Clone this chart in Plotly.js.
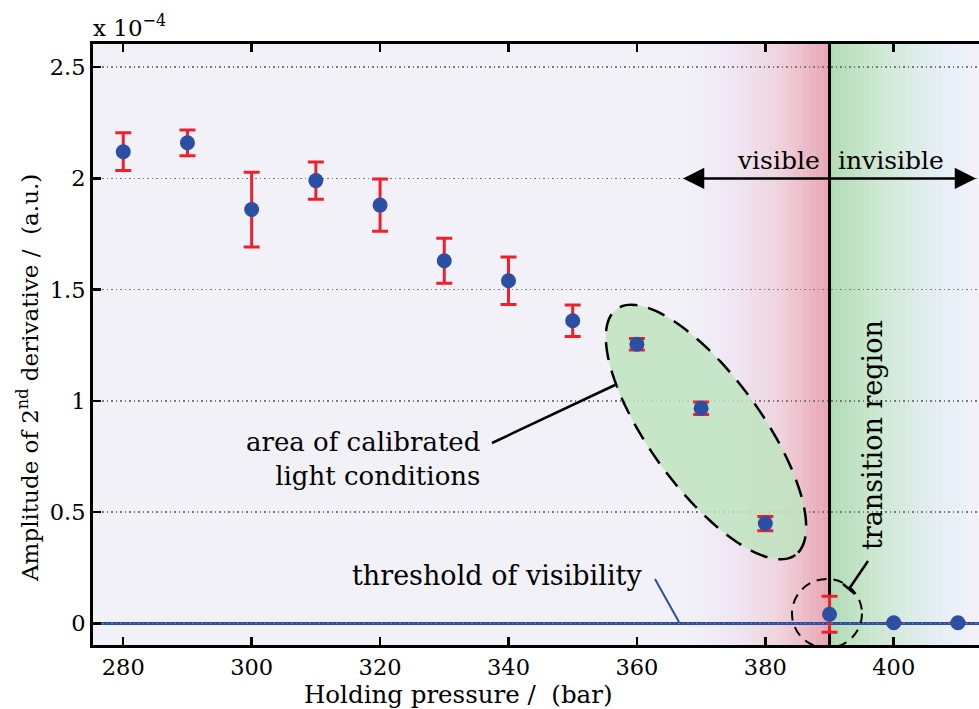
<!DOCTYPE html>
<html>
<head>
<meta charset="utf-8">
<script src="https://cdn.plot.ly/plotly-3.0.1.min.js"></script>
<style>html,body{margin:0;padding:0;background:#fff;}#chart{width:979px;height:709px;}</style>
</head>
<body>
<div id="chart"></div>
<script>
// ---- data (amplitude in units of 1e-4) ----
const pressure = [280, 290, 300, 310, 320, 330, 340, 350, 360, 370, 380, 390, 400, 410];
const amplitude = [2.12, 2.16, 1.86, 1.99, 1.88, 1.63, 1.54, 1.36, 1.255, 0.967, 0.449, 0.041, 0.003, 0.003];
const amplitudeErr = [0.085, 0.058, 0.168, 0.084, 0.117, 0.101, 0.107, 0.071, 0.026, 0.028, 0.032, 0.081, 0, 0];
const xTicks = [280, 300, 320, 340, 360, 380, 400];
const threshold = 0;
const transitionPressure = 390;

// ---- layout helpers ----
const X0 = 275.29, X1 = 413.28, Y0 = -0.097, Y1 = 2.604;
const L = 93, R = 979, T = 44, B = 645;
const px2x = p => X0 + (p - L) * (X1 - X0) / (R - L);
const py2y = p => Y1 - (p - T) * (Y1 - Y0) / (B - T);

const FONT = 'DejaVu Serif';
const FS = 22.5;   // ticks
const FA = 26;     // annotations
const BLUE = '#2b4fa3';
const RED = '#ed202e';

function hex2rgb(h){return [parseInt(h.slice(1,3),16),parseInt(h.slice(3,5),16),parseInt(h.slice(5,7),16)];}
function interp(stops, t){
  for(let i=0;i<stops.length-1;i++){
    const [a,ca]=stops[i],[b,cb]=stops[i+1];
    if(t>=a && t<=b){
      const f=(t-a)/(b-a), A=hex2rgb(ca), Bc=hex2rgb(cb);
      return 'rgb('+A.map((v,k)=>Math.round(v+(Bc[k]-v)*f)).join(',')+')';
    }
  }
  return stops[stops.length-1][1];
}
const shapes = [];
function gradient(xa, xb, stops, n){
  for(let i=0;i<n;i++){
    const t=(i+0.5)/n;
    shapes.push({type:'rect', layer:'below', xref:'x', yref:'paper',
      x0: xa+(xb-xa)*i/n, x1: xa+(xb-xa)*(i+1)/n + (i<n-1?0.05:0), y0:0, y1:1,
      line:{width:0}, fillcolor: interp(stops,t)});
  }
}
gradient(px2x(689), transitionPressure,
  [[0,'#f1f1f7'],[0.3,'#efe7f3'],[0.65,'#efd2dd'],[1,'#e8a3b1']], 60);
gradient(transitionPressure, px2x(969),
  [[0,'#afdbb4'],[0.3,'#c9e7cd'],[0.6,'#dcece7'],[0.85,'#e9eff8'],[1,'#eef1f8']], 60);

// rotated ellipse (pixel geometry -> data coords)
function ellipsePath(cx, cy, a, b, deg, n){
  const th = deg*Math.PI/180; let d='';
  for(let i=0;i<=n;i++){
    const t=2*Math.PI*i/n;
    const px=cx + a*Math.cos(t)*Math.cos(th) - b*Math.sin(t)*Math.sin(th);
    const py=cy + a*Math.cos(t)*Math.sin(th) + b*Math.sin(t)*Math.cos(th);
    d += (i===0?'M':'L') + px2x(px).toFixed(4) + ',' + py2y(py).toFixed(5);
  }
  return d+'Z';
}
shapes.push({type:'path', layer:'between', path: ellipsePath(706,432,152,56,54,120),
  fillcolor:'rgba(192,228,192,0.85)', line:{color:'black', width:2.5, dash:'18px,11px'}});

// threshold line and transition line
shapes.push({type:'line', layer:'between', xref:'paper', x0:0, x1:1, yref:'y', y0:threshold, y1:threshold,
  line:{color:BLUE, width:3}});
shapes.push({type:'line', layer:'between', xref:'x', x0:transitionPressure, x1:transitionPressure, yref:'paper', y0:0, y1:1,
  line:{color:'black', width:3}});

// dashed circle around transition point
shapes.push({type:'circle', layer:'above', xref:'x', yref:'y',
  x0:px2x(792), x1:px2x(862), y0:py2y(579), y1:py2y(648),
  line:{color:'black', width:2, dash:'10px,7px'}});

// callout lines
function seg(p1, p2, color, w){
  shapes.push({type:'line', layer:'above', xref:'x', yref:'y',
    x0:px2x(p1[0]), y0:py2y(p1[1]), x1:px2x(p2[0]), y1:py2y(p2[1]), line:{color:color, width:w}});
}
seg([492,443],[615,385],'black',2.5);
seg([655,579],[679,622],BLUE,2);
seg([868,561],[849,589],'black',2.5);
seg([843,584],[855,594],'black',2.5);

const txt = (x, y, text, extra) => Object.assign({x:x, y:y, xref:'x', yref:'y', text:text, showarrow:false,
  font:{family:FONT, size:FA, color:'black'}}, extra||{});

const annotations = [
  {xref:'paper', yref:'paper', x:0, y:1, xanchor:'left', yanchor:'bottom', xshift:-2, yshift:1,
   text:'x 10<sup>−4</sup>', showarrow:false, font:{family:FONT, size:23, color:'black'}},
  {xref:'paper', yref:'y', x:0, y:py2y(378), xshift:-65, textangle:-90, xanchor:'center', yanchor:'middle',
   text:'Amplitude of 2<sup>nd</sup> derivative /&nbsp; (a.u.)', showarrow:false, font:{family:FONT, size:23, color:'black'}},
  {xref:'x', yref:'paper', x:px2x(458), y:0, yshift:-49, xanchor:'center', yanchor:'middle',
   text:'Holding pressure /&nbsp; (bar)', showarrow:false, font:{family:FONT, size:24.5, color:'black'}},
  txt(px2x(822), py2y(160), 'visible', {xanchor:'right', yanchor:'middle', font:{family:FONT, size:25, color:'black'}}),
  txt(px2x(836), py2y(160), 'invisible', {xanchor:'left', yanchor:'middle', font:{family:FONT, size:25, color:'black'}}),
  txt(px2x(872), py2y(435), 'transition region', {textangle:-90, xanchor:'center', yanchor:'middle', font:{family:FONT, size:27, color:'black'}}),
  txt(px2x(482), py2y(459), 'area of calibrated<br>light conditions', {xanchor:'right', yanchor:'middle', align:'right'}),
  txt(px2x(350), py2y(575), 'threshold of visibility', {xanchor:'left', yanchor:'middle', font:{family:FONT, size:27, color:'black'}}),
  {x:px2x(683), y:2.0, ax:transitionPressure, ay:2.0, axref:'x', ayref:'y', xref:'x', yref:'y', text:'',
   showarrow:true, arrowhead:2, arrowsize:1.7, arrowwidth:2.5, arrowcolor:'black'},
  {x:px2x(976), y:2.0, ax:transitionPressure, ay:2.0, axref:'x', ayref:'y', xref:'x', yref:'y', text:'',
   showarrow:true, arrowhead:2, arrowsize:1.7, arrowwidth:2.5, arrowcolor:'black'}
];

const trace = {
  x: pressure, y: amplitude, type:'scatter', mode:'markers',
  marker:{size:15, color:BLUE},
  error_y:{type:'data', array:amplitudeErr, visible:true, color:RED, thickness:3, width:8},
  hoverinfo:'x+y', showlegend:false, cliponaxis:false
};

const layout = {
  width:979, height:709,
  margin:{l:L, r:979-R, t:T, b:709-B},
  paper_bgcolor:'#ffffff', plot_bgcolor:'#f1f1f7',
  showlegend:false,
  font:{family:FONT, size:FS, color:'black'},
  xaxis:{range:[X0,X1], tickvals:xTicks, ticks:'inside', ticklen:8, tickwidth:2.5, tickcolor:'black',
    showline:true, linewidth:3, linecolor:'black', mirror:'ticks', showgrid:false, zeroline:false,
    tickfont:{family:FONT, size:FS, color:'black'}, ticklabelstandoff:0},
  yaxis:{range:[Y0,Y1], tick0:0, dtick:0.5, ticks:'inside', ticklen:8, tickwidth:2.5, tickcolor:'black',
    showline:true, linewidth:3, linecolor:'black', mirror:false, zeroline:false,
    showgrid:true, gridcolor:'#7a7a7a', gridwidth:1.5, griddash:'1.5px,3px',
    tickfont:{family:FONT, size:FS, color:'black'}},
  shapes:shapes, annotations:annotations
};

Plotly.newPlot('chart', [trace], layout, {displayModeBar:false, staticPlot:true});
</script>
</body>
</html>
